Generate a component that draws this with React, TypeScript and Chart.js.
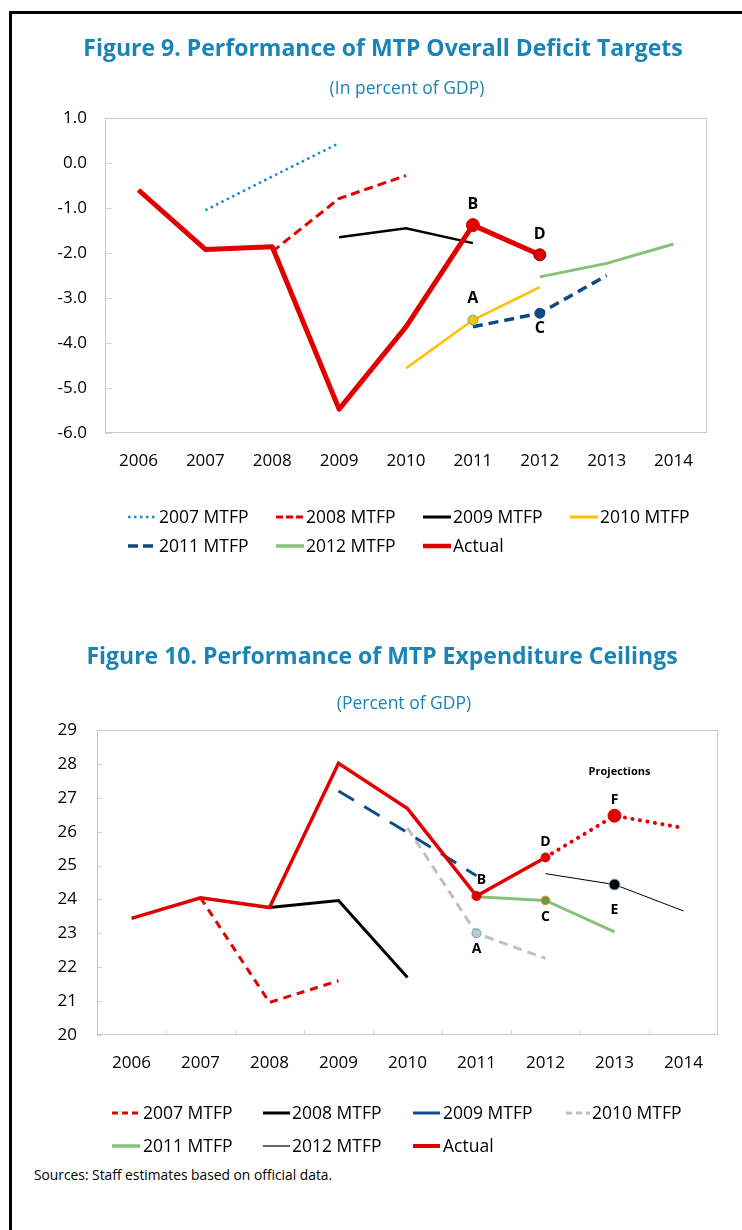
import React, { useEffect, useRef } from "react";
import { Chart, registerables } from "chart.js";
Chart.register(...registerables);

const FONT = "'Open Sans', 'DejaVu Sans', sans-serif";
Chart.defaults.font.family = FONT;

// ---------- shared ----------
const years = ["2006", "2007", "2008", "2009", "2010", "2011", "2012", "2013", "2014"];

// ---------- Figure 9: overall deficit (% of GDP) ----------
const f9Mtfp2007 = [null, -1.05, -0.3, 0.44, null, null, null, null, null];
const f9Mtfp2008 = [null, null, -1.97, -0.79, -0.28, null, null, null, null];
const f9Mtfp2009 = [null, null, null, -1.65, -1.45, -1.78, null, null, null];
const f9Mtfp2010 = [null, null, null, null, -4.56, -3.49, -2.76, null, null];
const f9Mtfp2011 = [null, null, null, null, null, -3.64, -3.34, -2.5, null];
const f9Mtfp2012 = [null, null, null, null, null, null, -2.53, -2.23, -1.8];
const f9Actual = [-0.6, -1.92, -1.86, -5.47, -3.64, -1.38, -2.04, null, null];
const f9YMin = -6;
const f9YMax = 1;

// ---------- Figure 10: expenditure ceilings (% of GDP) ----------
const f10Mtfp2007 = [null, 24.05, 20.96, 21.6, null, null, null, null, null];
const f10Mtfp2008 = [null, null, 23.76, 23.97, 21.7, null, null, null, null];
const f10Mtfp2009 = [null, null, null, 27.2, 25.97, 24.7, null, null, null];
const f10Mtfp2010 = [null, null, null, null, 26.11, 23.0, 22.26, null, null];
const f10Mtfp2011 = [null, null, null, null, null, 24.08, 23.97, 23.04, null];
const f10Mtfp2012 = [null, null, null, null, null, null, 24.76, 24.44, 23.66];
const f10Actual = [23.44, 24.05, 23.76, 28.02, 26.68, 24.1, 25.24, 26.47, 26.11];
const f10ProjectionFrom = 6; // index of 2012: dotted afterwards
const f10YMin = 20;
const f10YMax = 29;

// ---------- colours ----------
const RED = "#e00000";
const TITLE_BLUE = "#1b84b6";

// ---------- plugins ----------
const frameTicks = {
  id: "frameTicks",
  beforeDatasetsDraw(chart: any, _args: any, opts: any) {
    const { ctx, chartArea: a, scales } = chart;
    ctx.save();
    ctx.lineWidth = 1;
    ctx.strokeStyle = opts.tickColor;
    ctx.beginPath();
    scales.y.ticks.forEach((t: any) => {
      const py = Math.round(scales.y.getPixelForValue(t.value)) + 0.5;
      ctx.moveTo(a.left, py);
      ctx.lineTo(a.left + opts.yTickLen, py);
    });
    if (opts.xTickLen > 0) {
      const n = scales.x.ticks.length;
      for (let i = 1; i < n; i++) {
        const px = Math.round((scales.x.getPixelForValue(i - 1) + scales.x.getPixelForValue(i)) / 2) + 0.5;
        ctx.moveTo(px, a.bottom);
        ctx.lineTo(px, a.bottom - opts.xTickLen);
      }
    }
    ctx.stroke();
    ctx.strokeStyle = opts.borderColor;
    ctx.strokeRect(Math.round(a.left) + 0.5, Math.round(a.top) + 0.5, Math.round(a.right - a.left) - 1, Math.round(a.bottom - a.top) - 1);
    ctx.restore();
  },
};

const pointLabels = {
  id: "pointLabels",
  afterDatasetsDraw(chart: any, _args: any, opts: any) {
    const { ctx, scales } = chart;
    ctx.save();
    ctx.fillStyle = "#000";
    ctx.textAlign = "center";
    ctx.textBaseline = "middle";
    (opts.items || []).forEach((it: any) => {
      const v = chart.data.datasets[it.ds].data[it.i];
      const px = scales.x.getPixelForValue(it.i) + (it.dx || 0);
      const py = scales.y.getPixelForValue(v) + (it.dy || 0);
      ctx.font = `bold ${it.size || opts.size}px ${FONT}`;
      ctx.fillText(it.text, px, py);
    });
    ctx.restore();
  },
};

const lineLegend = {
  id: "lineLegend",
  afterDraw(chart: any, _args: any, opts: any) {
    const { ctx } = chart;
    ctx.save();
    ctx.font = `${opts.size}px ${FONT}`;
    ctx.textBaseline = "middle";
    ctx.textAlign = "left";
    chart.data.datasets.forEach((ds: any, idx: number) => {
      const col = opts.cols[idx % opts.cols.length];
      const y = opts.rows[Math.floor(idx / opts.cols.length)];
      ctx.strokeStyle = ds.borderColor;
      ctx.lineWidth = ds.legendWidth || ds.borderWidth;
      ctx.setLineDash(ds.legendDash || ds.borderDash || []);
      ctx.lineCap = ds.legendCap || "butt";
      ctx.beginPath();
      ctx.moveTo(col[0], y);
      ctx.lineTo(col[1], y);
      ctx.stroke();
      ctx.setLineDash([]);
      ctx.fillStyle = "#000";
      ctx.fillText(ds.label, col[2], y + 1);
    });
    ctx.restore();
  },
};

function radiusAt(n: number, map: Record<number, number>) {
  return Array.from({ length: n }, (_, i) => map[i] || 0);
}
function colorAt(n: number, def: string, map: Record<number, string>) {
  return Array.from({ length: n }, (_, i) => map[i] || def);
}

function baseOptions(cfg: any) {
  return {
    responsive: false,
    animation: false,
    events: [],
    layout: { padding: { left: 0, right: cfg.padRight, top: cfg.padTop, bottom: 0 } },
    plugins: {
      legend: { display: false },
      tooltip: { enabled: false },
      title: { display: false },
      frameTicks: cfg.frame,
      pointLabels: cfg.labels,
      lineLegend: cfg.legend,
    },
    scales: {
      x: {
        type: "category",
        offset: true,
        grid: { display: false, drawTicks: false },
        border: { display: false },
        ticks: { color: "#000", font: { size: 17, family: FONT }, padding: cfg.xPad, maxRotation: 0, autoSkip: false },
        afterFit: (s: any) => {
          s.height = cfg.xHeight;
        },
      },
      y: {
        min: cfg.yMin,
        max: cfg.yMax,
        grid: { display: false, drawTicks: false },
        border: { display: false },
        ticks: {
          stepSize: 1,
          color: "#000",
          font: { size: 17, family: FONT },
          padding: cfg.yPad,
          callback: cfg.yFormat,
        },
        afterFit: (s: any) => {
          s.width = cfg.yWidth;
        },
      },
    },
  };
}

function useChart(ref: any, makeConfig: () => any) {
  useEffect(() => {
    const chart = new Chart(ref.current, makeConfig());
    return () => chart.destroy();
  }, []);
}

function figure9Config() {
  const n = years.length;
  return {
    type: "line",
    data: {
      labels: years,
      datasets: [
        { label: "2007 MTFP", data: f9Mtfp2007, borderColor: "#1a8cbf", borderWidth: 2.5, borderDash: [2.5, 3.5], pointRadius: 0, order: 1, legendWidth: 2.5 },
        { label: "2008 MTFP", data: f9Mtfp2008, borderColor: RED, borderWidth: 3, borderDash: [9, 5], pointRadius: 0, order: 1, legendDash: [7, 3] },
        { label: "2009 MTFP", data: f9Mtfp2009, borderColor: "#000", borderWidth: 2.5, pointRadius: 0, order: 1, legendWidth: 3 },
        {
          label: "2010 MTFP", data: f9Mtfp2010, borderColor: "#ffc000", borderWidth: 2.5, order: 1, legendWidth: 3,
          pointRadius: radiusAt(n, { 5: 5 }), pointBackgroundColor: "#ffc000", pointBorderColor: "#4bacc6", pointBorderWidth: 1,
        },
        {
          label: "2011 MTFP", data: f9Mtfp2011, borderColor: "#0d4a84", borderWidth: 3.5, borderDash: [10, 6], order: 1, legendDash: [10, 5],
          pointRadius: radiusAt(n, { 6: 5 }), pointBackgroundColor: "#0d4a84", pointBorderColor: "#0d4a84", pointBorderWidth: 1,
        },
        { label: "2012 MTFP", data: f9Mtfp2012, borderColor: "#86c07a", borderWidth: 3, pointRadius: 0, order: 1, legendWidth: 3.5 },
        {
          label: "Actual", data: f9Actual, borderColor: RED, borderWidth: 5, order: 0, legendWidth: 4.5, borderJoinStyle: "round",
          pointRadius: radiusAt(n, { 5: 6.5, 6: 6 }), pointBackgroundColor: RED,
          pointBorderColor: colorAt(n, RED, { 6: "#7a0000" }), pointBorderWidth: 1,
        },
      ],
    },
    options: baseOptions({
      padRight: 35,
      padTop: 118,
      xHeight: 177,
      xPad: 18,
      yWidth: 105,
      yPad: 18,
      yMin: f9YMin,
      yMax: f9YMax,
      yFormat: (v: any) => Number(v).toFixed(1),
      frame: { tickColor: "#d4d4d4", borderColor: "#c8c8c8", yTickLen: 7, xTickLen: 0 },
      labels: {
        size: 16,
        items: [
          { text: "B", ds: 6, i: 5, dy: -21 },
          { text: "D", ds: 6, i: 6, dy: -20 },
          { text: "A", ds: 3, i: 5, dy: -22 },
          { text: "C", ds: 4, i: 6, dy: 15 },
        ],
      },
      legend: {
        size: 17.5,
        cols: [
          [128, 157, 159],
          [276, 304, 306],
          [423, 451, 453],
          [570, 598, 600],
        ],
        rows: [517, 546],
      },
    }),
    plugins: [frameTicks, pointLabels, lineLegend],
  };
}

function figure10Config() {
  const n = years.length;
  return {
    type: "line",
    data: {
      labels: years,
      datasets: [
        { label: "2007 MTFP", data: f10Mtfp2007, borderColor: RED, borderWidth: 3, borderDash: [8, 6], pointRadius: 0, order: 1, legendDash: [6, 4] },
        { label: "2008 MTFP", data: f10Mtfp2008, borderColor: "#000", borderWidth: 3, pointRadius: 0, order: 1 },
        { label: "2009 MTFP", data: f10Mtfp2009, borderColor: "#0a4f8c", borderWidth: 3, borderDash: [18, 12], pointRadius: 0, order: 1, legendDash: [] },
        {
          label: "2010 MTFP", data: f10Mtfp2010, borderColor: "#bfbfbf", borderWidth: 3, borderDash: [9, 6], order: 1, legendDash: [6, 4],
          pointRadius: radiusAt(n, { 5: 4.5 }), pointBackgroundColor: "#c6c6c6", pointBorderColor: "#4bacc6", pointBorderWidth: 1,
        },
        {
          label: "2011 MTFP", data: f10Mtfp2011, borderColor: "#86c07a", borderWidth: 3, order: 1, legendWidth: 3.5,
          pointRadius: radiusAt(n, { 6: 4.5 }), pointBackgroundColor: "#77933c", pointBorderColor: "#f79646", pointBorderWidth: 1,
        },
        {
          label: "2012 MTFP", data: f10Mtfp2012, borderColor: "#000", borderWidth: 1, order: 1, legendWidth: 1.2,
          pointRadius: radiusAt(n, { 7: 5.5 }), pointBackgroundColor: "#000", pointBorderColor: "#8db3e2", pointBorderWidth: 1,
        },
        {
          label: "Actual", data: f10Actual, borderColor: RED, borderWidth: 3.5, order: 0, legendWidth: 4,
          pointRadius: radiusAt(n, { 5: 4.5, 6: 4.5, 7: 6.5 }), pointBackgroundColor: RED, pointBorderColor: RED, pointBorderWidth: 1,
          segment: {
            borderDash: (c: any) => (c.p0DataIndex >= f10ProjectionFrom ? [0.1, 7.5] : undefined),
            borderCapStyle: (c: any) => (c.p0DataIndex >= f10ProjectionFrom ? "round" : "butt"),
            borderWidth: (c: any) => (c.p0DataIndex >= f10ProjectionFrom ? 4 : undefined),
          },
        },
      ],
    },
    options: baseOptions({
      padRight: 24,
      padTop: 110,
      xHeight: 125,
      xPad: 18,
      yWidth: 97,
      yPad: 20,
      yMin: f10YMin,
      yMax: f10YMax,
      yFormat: (v: any) => String(v),
      frame: { tickColor: "#d4d4d4", borderColor: "#c8c8c8", yTickLen: 5, xTickLen: 5 },
      labels: {
        size: 14,
        items: [
          { text: "Projections", ds: 6, i: 7, dx: 5, dy: -44, size: 11 },
          { text: "F", ds: 6, i: 7, dy: -16 },
          { text: "D", ds: 6, i: 6, dy: -15 },
          { text: "B", ds: 6, i: 5, dx: 5, dy: -16 },
          { text: "C", ds: 4, i: 6, dy: 17 },
          { text: "E", ds: 5, i: 7, dy: 25 },
          { text: "A", ds: 3, i: 5, dy: 16 },
        ],
      },
      legend: {
        size: 17.5,
        cols: [
          [112, 140, 143],
          [263, 290, 292],
          [413, 440, 443],
          [566, 590, 592],
        ],
        rows: [493, 526],
      },
    }),
    plugins: [frameTicks, pointLabels, lineLegend],
  };
}

function Figure9() {
  const ref = useRef<HTMLCanvasElement>(null);
  useChart(ref, figure9Config);
  return <canvas ref={ref} width={742} height={610} style={{ position: "absolute", left: 0, top: 0 }} />;
}

function Figure10() {
  const ref = useRef<HTMLCanvasElement>(null);
  useChart(ref, figure10Config);
  return <canvas ref={ref} width={742} height={540} style={{ position: "absolute", left: 0, top: 620 }} />;
}

const textBase: React.CSSProperties = {
  position: "absolute",
  fontFamily: FONT,
  whiteSpace: "nowrap",
  textAlign: "center",
  margin: 0,
};

export default function App() {
  return (
    <div style={{ position: "absolute", left: 0, top: 0, width: 742, height: 1230, overflow: "hidden", background: "#fff" }}>
      <div style={{ position: "absolute", left: 9, top: 11, width: 900, height: 1400, borderLeft: "3px solid #000", borderTop: "3px solid #000" }} />
      <Figure9 />
      <Figure10 />
      <div style={{ ...textBase, left: 83, width: 600, top: 33, fontSize: 23, lineHeight: "28px", fontWeight: 700, color: TITLE_BLUE }}>
        Figure 9. Performance of MTP Overall Deficit Targets
      </div>
      <div style={{ ...textBase, left: 307, width: 200, top: 76, fontSize: 17.5, lineHeight: "22px", color: TITLE_BLUE }}>
        (In percent of GDP)
      </div>
      <div style={{ ...textBase, left: 82, width: 600, top: 641, fontSize: 23, lineHeight: "28px", fontWeight: 700, color: TITLE_BLUE }}>
        Figure 10. Performance of MTP Expenditure Ceilings
      </div>
      <div style={{ ...textBase, left: 304, width: 200, top: 691, fontSize: 17.5, lineHeight: "22px", color: TITLE_BLUE }}>
        (Percent of GDP)
      </div>
      <div style={{ ...textBase, textAlign: "left", left: 34, top: 1167, fontSize: 13.8, lineHeight: "16px", color: "#000" }}>
        Sources: Staff estimates based on official data.
      </div>
    </div>
  );
}
